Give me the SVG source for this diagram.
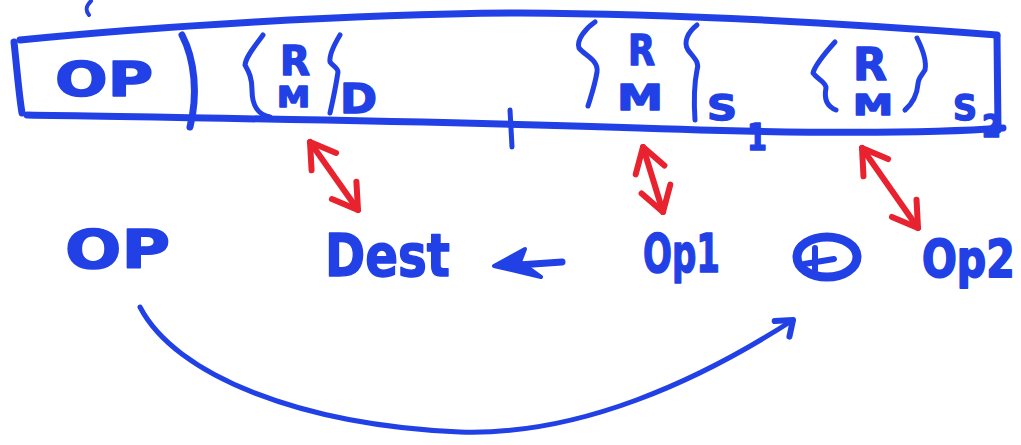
<svg xmlns="http://www.w3.org/2000/svg" width="1021" height="445" viewBox="0 0 1021 445">
  <style>
    .ink { fill: none; stroke: #2141e6; stroke-linecap: round; stroke-linejoin: round; }
    .box { stroke-width: 7; }
    .brace { stroke-width: 5; }
    .red { fill: none; stroke: #e8222e; stroke-width: 6; stroke-linecap: round; stroke-linejoin: round; }
    .hand { font-family: "DejaVu Sans", "Liberation Sans", sans-serif; font-weight: bold; fill: #2141e6; stroke: #2141e6; stroke-width: 1.5; stroke-linejoin: round; }
  </style>
  <defs>
    <marker id="redHead" viewBox="-30 -20 34 40" refX="0" refY="0" markerWidth="34" markerHeight="40" markerUnits="userSpaceOnUse" orient="auto-start-reverse" overflow="visible">
      <path d="M-24,-15 L0,0 L-24,15" fill="none" stroke="#e8222e" stroke-width="6" stroke-linecap="round" stroke-linejoin="round"/>
    </marker>
    <marker id="blueHead" viewBox="-20 -14 24 28" refX="0" refY="0" markerWidth="24" markerHeight="28" markerUnits="userSpaceOnUse" orient="auto" overflow="visible">
      <path d="M-16,-9 L0,0 L-12,12" fill="none" stroke="#2141e6" stroke-width="6" stroke-linecap="round" stroke-linejoin="round"/>
    </marker>
  </defs>
  <rect width="1021" height="445" fill="#ffffff"/>

  <!-- instruction word: opcode field and three operand specifiers -->
  <g id="instruction">
    <path class="ink" stroke-width="4" d="M91,1 C86,6 85,10 89,15"/>
    <path class="ink box" d="M20,40 C150,27 350,14 520,13 C700,14 880,26 997,35"/>
    <path class="ink box" d="M27,115 C200,118 500,122 700,130 C850,134 950,132 1003,128"/>
    <path class="ink box" d="M14,42 C17,70 19,95 22,113"/>
    <path class="ink box" d="M997,36 L998,130"/>
    <path class="ink box" d="M182,35 C195,60 198,95 190,127"/>
    <path class="ink" stroke-width="5" d="M510,110 L512,147"/>
    <text class="hand" x="55" y="96" font-size="48" textLength="98" lengthAdjust="spacingAndGlyphs">OP</text>

    <!-- destination specifier -->
    <path class="ink brace" d="M263,35 C256,45 246,56 245,65 C249,72 252,78 252,90 C252,105 258,115 270,117"/>
    <text class="hand" x="280" y="75" font-size="40" textLength="30" lengthAdjust="spacingAndGlyphs">R</text>
    <text class="hand" x="277" y="107" font-size="28" textLength="33" lengthAdjust="spacingAndGlyphs">M</text>
    <path class="ink brace" d="M340,35 C334,45 329,55 330,62 C333,66 338,68 338,72 C336,85 333,100 330,113"/>
    <text class="hand" x="340" y="113" font-size="40" textLength="37" lengthAdjust="spacingAndGlyphs">D</text>

    <!-- first source specifier -->
    <path class="ink brace" d="M595,22 C586,28 576,40 579,48 C584,55 599,60 597,72 C595,85 591,96 588,106"/>
    <text class="hand" x="628" y="65" font-size="42" textLength="27" lengthAdjust="spacingAndGlyphs">R</text>
    <text class="hand" x="617" y="110" font-size="36" textLength="46" lengthAdjust="spacingAndGlyphs">M</text>
    <path class="ink brace" d="M697,25 C688,32 683,42 688,50 C693,57 700,62 697,70 C694,85 694,105 695,120"/>
    <text class="hand" x="707" y="120" font-size="36" textLength="30" lengthAdjust="spacingAndGlyphs">S</text>
    <text class="hand" x="747" y="150" font-size="38" textLength="20" lengthAdjust="spacingAndGlyphs">1</text>

    <!-- second source specifier -->
    <path class="ink brace" d="M835,42 C826,52 815,65 813,73 C818,80 826,82 826,88 C824,98 826,106 836,110"/>
    <text class="hand" x="853" y="80" font-size="44" textLength="34" lengthAdjust="spacingAndGlyphs">R</text>
    <text class="hand" x="853" y="115" font-size="28" textLength="40" lengthAdjust="spacingAndGlyphs">M</text>
    <path class="ink brace" d="M917,38 C922,48 927,60 925,70 C922,75 918,78 918,84 C917,95 912,104 905,110"/>
    <text class="hand" x="953" y="120" font-size="36" textLength="24" lengthAdjust="spacingAndGlyphs">S</text>
    <text class="hand" x="982" y="137" font-size="32" textLength="19" lengthAdjust="spacingAndGlyphs">2</text>
  </g>

  <!-- operation: Dest <- Op1 (+) Op2 -->
  <g id="opcode">
    <text class="hand" x="65" y="268" font-size="54" textLength="105" lengthAdjust="spacingAndGlyphs">OP</text>
  </g>
  <g id="dest">
    <text class="hand" x="325" y="276" font-size="58" textLength="125" lengthAdjust="spacingAndGlyphs">Dest</text>
  </g>
  <g id="op1">
    <text class="hand" x="643" y="272" font-size="53" textLength="77" lengthAdjust="spacingAndGlyphs">Op1</text>
  </g>
  <g id="combine">
    <ellipse class="ink" stroke-width="9" cx="827" cy="257" rx="30" ry="20"/>
    <path class="ink" stroke-width="6" d="M804,264 L834,259 M815,248 L815,271"/>
  </g>
  <g id="op2">
    <text class="hand" transform="translate(922,277) scale(1,1.24)" x="0" y="0" font-size="41">Op2</text>
  </g>

  <g id="connectors">
    <!-- field-to-operand correspondence -->
    <path class="red" d="M310,142 L358,210" marker-start="url(#redHead)" marker-end="url(#redHead)"/>
    <path class="red" d="M643,147 L663,212" marker-start="url(#redHead)" marker-end="url(#redHead)"/>
    <path class="red" d="M862,148 L918,228" marker-start="url(#redHead)" marker-end="url(#redHead)"/>
    <!-- result flows into Dest -->
    <path class="ink" stroke-width="7" d="M562,262 L505,266"/>
    <path d="M494,266 L525,249 L520,262 L541,277 Z" fill="#2141e6" stroke="#2141e6" stroke-width="4" stroke-linejoin="round"/>
    <!-- opcode selects the operation -->
    <path class="ink" stroke-width="5" d="M140,307 C175,375 300,425 460,432 C580,436 700,380 793,320" marker-end="url(#blueHead)"/>
  </g>
</svg>
